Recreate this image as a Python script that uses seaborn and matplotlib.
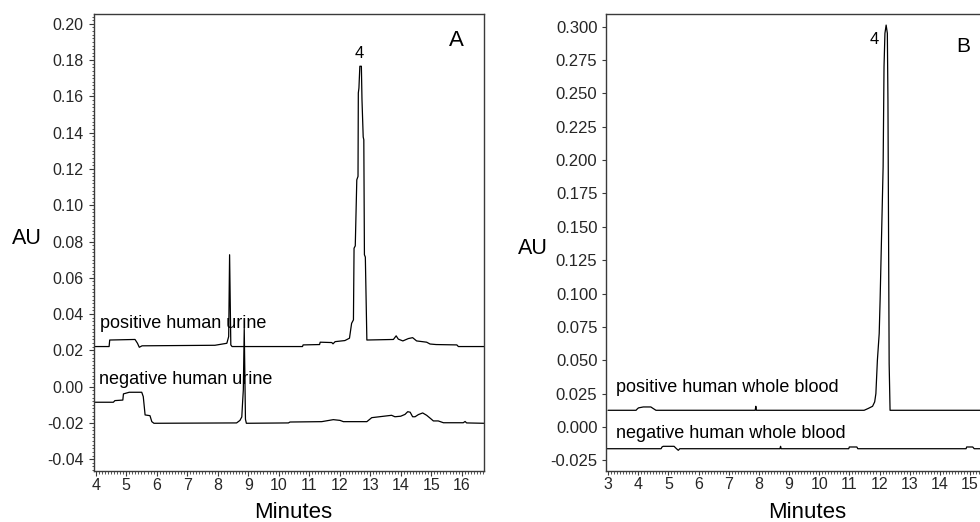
import matplotlib
matplotlib.use("Agg")
import matplotlib.pyplot as plt
import seaborn as sns
import pandas as pd
from matplotlib.ticker import MultipleLocator, FormatStrFormatter

# ---------------- data ----------------
# Panel A: human urine
urine_pos_t = [3.95, 4.44, 4.46, 5.29, 5.37, 5.43, 5.52, 7.91, 8.30, 8.36, 8.39, 8.43, 8.47,
               10.78, 10.80, 11.34, 11.36, 11.74, 11.78, 11.85, 12.17, 12.32, 12.39, 12.45,
               12.47, 12.51, 12.56, 12.60, 12.61, 12.63, 12.66, 12.71, 12.73, 12.77, 12.79,
               12.81, 12.84, 12.89, 13.76, 13.85, 13.92, 14.07, 14.25, 14.39, 14.52, 14.85,
               14.96, 15.16, 15.84, 15.89, 16.73]
urine_pos_au = [0.0221, 0.0221, 0.0257, 0.0260, 0.0239, 0.0217, 0.0225, 0.0228, 0.0239, 0.0276,
                0.0727, 0.0230, 0.0221,
                0.0221, 0.0230, 0.0232, 0.0245, 0.0243, 0.0236, 0.0248, 0.0254, 0.0267, 0.0349,
                0.0368, 0.0763, 0.0776, 0.1140, 0.1159, 0.1619, 0.1646, 0.1766, 0.1766, 0.1582,
                0.1376, 0.1361, 0.0727, 0.0714, 0.0257, 0.0260, 0.0280, 0.0262, 0.0252, 0.0265,
                0.0270, 0.0252, 0.0245, 0.0235, 0.0232, 0.0230, 0.0221, 0.0221]

urine_neg_t = [3.95, 4.58, 4.63, 4.89, 4.91, 5.10, 5.51, 5.56, 5.62, 5.78, 5.84, 5.91, 8.62,
               8.73, 8.79, 8.82, 8.84, 8.87, 8.91, 8.94, 10.32, 10.37, 11.41, 11.79, 12.01,
               12.12, 12.89, 13.05, 13.70, 13.81, 14.00, 14.14, 14.23, 14.31, 14.39, 14.47,
               14.58, 14.72, 14.85, 14.98, 15.07, 15.23, 15.40, 16.05, 16.11, 16.16, 16.73]
urine_neg_au = [-0.0086, -0.0086, -0.0077, -0.0074, -0.0040, -0.0031, -0.0031, -0.0055, -0.0156,
                -0.0160, -0.0193, -0.0202, -0.0200,
                -0.0186, -0.0167, -0.0075, -0.0018, 0.0322, -0.0180, -0.0202, -0.0200, -0.0195,
                -0.0193, -0.0182, -0.0186, -0.0193, -0.0193, -0.0171, -0.0158, -0.0166, -0.0163,
                -0.0153, -0.0138, -0.0141, -0.0166, -0.0166, -0.0154, -0.0145, -0.0158, -0.0176,
                -0.0189, -0.0189, -0.0199, -0.0199, -0.0192, -0.0200, -0.0202]

# Panel B: human whole blood
blood_pos_t = [3.00, 3.93, 3.97, 4.01, 4.17, 4.42, 4.50, 4.59, 7.88, 7.90, 7.92, 11.49, 11.62,
               11.77, 11.84, 11.88, 11.93, 11.99, 12.02, 12.07, 12.12, 12.15, 12.18, 12.22,
               12.26, 12.28, 12.32, 12.35, 15.40]
blood_pos_au = [0.0125, 0.0125, 0.0135, 0.0143, 0.0150, 0.0150, 0.0138, 0.0125, 0.0125, 0.0155,
                0.0125, 0.0125, 0.0138, 0.0155, 0.0188, 0.0250, 0.0500, 0.0700, 0.0950, 0.1450,
                0.1950, 0.2700, 0.2950, 0.3012, 0.2950, 0.2450, 0.0475, 0.0125, 0.0125]

blood_neg_t = [2.95, 4.76, 4.79, 4.83, 5.19, 5.27, 5.33, 5.38, 8.70, 8.72, 8.74, 10.98, 11.00,
               11.25, 11.28, 14.87, 14.89, 15.09, 15.14, 15.40]
blood_neg_au = [-0.0163, -0.0163, -0.0150, -0.0145, -0.0145, -0.0163, -0.0175, -0.0163, -0.0163,
                -0.0145, -0.0163, -0.0163, -0.0150, -0.0150, -0.0163, -0.0163, -0.0150, -0.0150,
                -0.0163, -0.0163]

# ---------------- styling ----------------
sns.set_style("ticks")
plt.rcParams["font.family"] = ["Liberation Sans", "DejaVu Sans"]
plt.rcParams["axes.unicode_minus"] = False

W, H = 980, 522
fig = plt.figure(figsize=(W / 100, H / 100), dpi=100)


def px_rect(left, top, right, bottom):
    return [left / W, 1 - bottom / H, (right - left) / W, (bottom - top) / H]


def ftext(x, y, s, size, ha="left", va="center"):
    fig.text(x / W, 1 - y / H, s, fontsize=size, ha=ha, va=va, color="black")


spine_col = "#3a3a3a"

# ---------- Panel A ----------
axA = fig.add_axes(px_rect(94, 14, 484, 471))
for t, v in [(urine_pos_t, urine_pos_au), (urine_neg_t, urine_neg_au)]:
    df = pd.DataFrame({"Minutes": t, "AU": v})
    sns.lineplot(data=df, x="Minutes", y="AU", ax=axA, estimator=None, sort=False,
                 color="black", linewidth=0.9)
axA.set_xlim(3.945, 16.73)
axA.set_ylim(-0.0465, 0.2054)
axA.xaxis.set_major_locator(MultipleLocator(1))
axA.xaxis.set_minor_locator(MultipleLocator(0.1))
axA.yaxis.set_major_locator(MultipleLocator(0.02))
axA.yaxis.set_minor_locator(MultipleLocator(0.002))
axA.yaxis.set_major_formatter(FormatStrFormatter("%.2f"))
axA.tick_params(axis="both", which="major", direction="out", length=3.5, width=0.8,
                color=spine_col, labelsize=11.5)
axA.tick_params(axis="both", which="minor", direction="out", length=1.8, width=0.6,
                color=spine_col)
axA.tick_params(axis="y", which="major", pad=4)
axA.tick_params(axis="x", which="major", pad=1.5)
axA.set_xlabel("")
axA.set_ylabel("")
for sp in axA.spines.values():
    sp.set_color(spine_col)
    sp.set_linewidth(1.0)

# ---------- Panel B (cut by the right edge of the figure, as in the reference) ----------
ppm = (970 - 608) / 12.0          # pixels per minute in panel B
x_left_B, x_right_B = 2.925, 15.4
axB = fig.add_axes(px_rect(608 + (x_left_B - 3) * ppm, 14, 608 + (x_right_B - 3) * ppm, 471))
for t, v in [(blood_pos_t, blood_pos_au), (blood_neg_t, blood_neg_au)]:
    df = pd.DataFrame({"Minutes": t, "AU": v})
    sns.lineplot(data=df, x="Minutes", y="AU", ax=axB, estimator=None, sort=False,
                 color="black", linewidth=0.9)
axB.set_xlim(x_left_B, x_right_B)
axB.set_ylim(-0.033, 0.3095)
axB.xaxis.set_major_locator(MultipleLocator(1))
axB.xaxis.set_minor_locator(MultipleLocator(0.1))
axB.yaxis.set_major_locator(MultipleLocator(0.025))
axB.yaxis.set_major_formatter(FormatStrFormatter("%.3f"))
axB.tick_params(axis="both", which="major", direction="out", length=3, width=0.8,
                color=spine_col, labelsize=12)
axB.tick_params(axis="x", which="major", labelsize=11.5)
axB.tick_params(axis="x", which="minor", direction="out", length=1.8, width=0.6,
                color=spine_col)
axB.tick_params(axis="y", which="major", pad=3)
axB.tick_params(axis="x", which="major", pad=1.5)
axB.set_xlabel("")
axB.set_ylabel("")
for sp in axB.spines.values():
    sp.set_color(spine_col)
    sp.set_linewidth(1.0)
axB.spines["right"].set_visible(False)

# ---------- text ----------
ftext(293, 513, "Minutes", 16, ha="center")
ftext(27, 239, "AU", 15.5, ha="center")
ftext(807, 513, "Minutes", 16, ha="center")
ftext(533, 248, "AU", 15.5, ha="center")

ftext(100, 323, "positive human urine", 13)
ftext(99, 380, "negative human urine", 13)
ftext(359, 54, "4", 12, ha="center")
ftext(456, 40, "A", 16, ha="center")

ftext(616, 387, "positive human whole blood", 13)
ftext(616, 433, "negative human whole blood", 13)
ftext(874, 40, "4", 12, ha="center")
ftext(963, 46, "B", 15, ha="center")

fig.savefig("out.png", dpi=100)
